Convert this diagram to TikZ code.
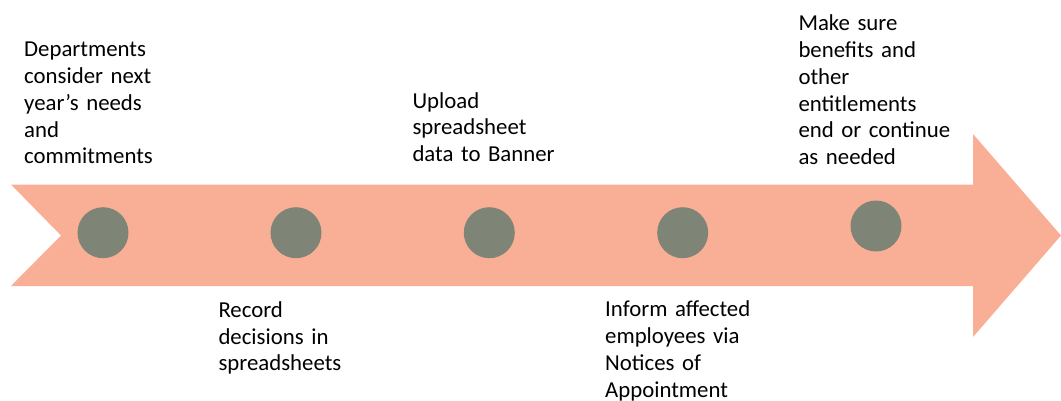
\documentclass[tikz,border=0pt]{standalone}
\usepackage{fontspec}
\setmainfont{Carlito}
\definecolor{arrowfill}{RGB}{249,175,149}
\definecolor{dotfill}{RGB}{127,133,118}
\begin{document}
\begin{tikzpicture}[x=1pt,y=-1pt,
  dot/.style={circle,fill=dotfill,minimum size=51pt,inner sep=0pt},
  steptext/.style={anchor=base west,inner sep=0pt,align=left,text width=220pt,
    font={\fontsize{22.8}{26.8}\selectfont},text=black}]
\useasboundingbox (0,0) rectangle (1061,400);
% the timeline arrow with a notched tail
\fill[arrowfill] (11,184.5) -- (973,184.5) -- (973,134) -- (1061,235.5)
  -- (973,337) -- (973,286) -- (11,286) -- (61,235.5) -- cycle;
% milestones
\node[dot] (c1) at (103,232.7) {};
\node[dot] (c2) at (296,232.7) {};
\node[dot] (c3) at (489.3,232.7) {};
\node[dot] (c4) at (682.7,232.7) {};
\node[dot] (c5) at (876,226) {};
% step descriptions
\node[steptext] (t1) at (24,56.7) {Departments\\consider next\\year’s needs\\and\\commitments};
\node[steptext] (t2) at (218.3,317.3) {Record\\decisions in\\spreadsheets};
\node[steptext] (t3) at (412.3,108) {Upload\\spreadsheet\\data to Banner};
\node[steptext] (t4) at (605,316.7) {Inform affected\\employees via\\Notices of\\Appointment};
\node[steptext] (t5) at (798.3,30.7) {Make sure\\benefits and\\other\\entitlements\\end or continue\\as needed};
\end{tikzpicture}
\end{document}
